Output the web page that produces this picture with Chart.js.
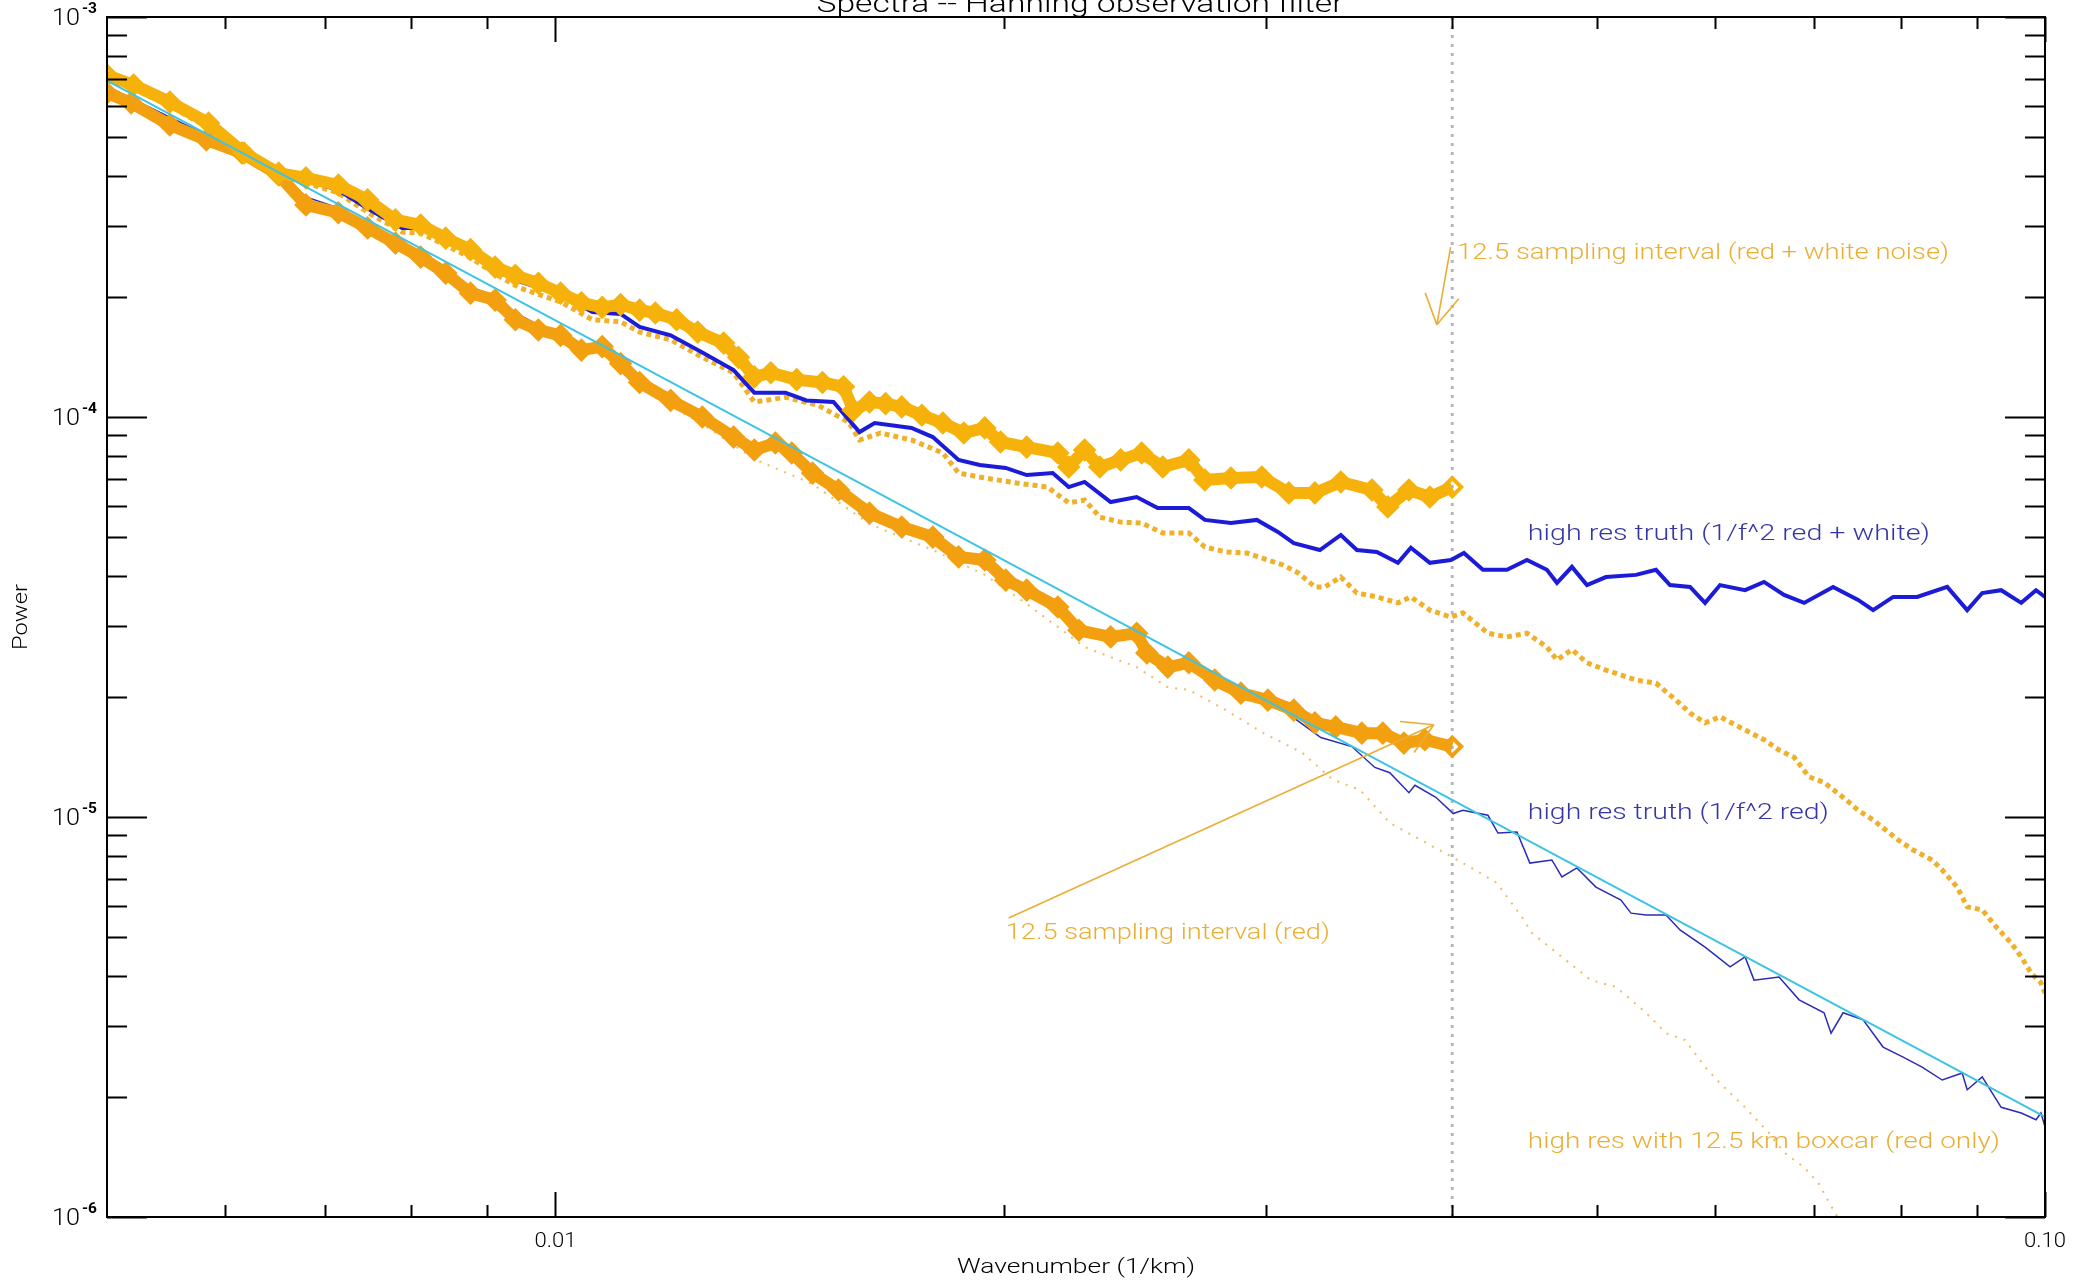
<!DOCTYPE html>
<html>
<head>
<meta charset="utf-8">
<title>Spectra -- Hanning observation filter</title>
<script src="https://cdn.jsdelivr.net/npm/chart.js@4.4.1/dist/chart.umd.min.js"></script>
<style>
  html, body { margin: 0; padding: 0; background: #fff; }
  #wrap { width: 2075px; height: 1282px; }
</style>
</head>
<body>
<div id="wrap"><canvas id="spectraChart"></canvas></div>
<script>
// power spectra, wavenumber in 1/km

// 1/f^2 reference line
const fitK = [0.005, 0.1];
const fitP = [6.93e-4, 1.78e-6];

// high res truth, red + white noise
const truthRedWhiteK = [0.00500, 0.00521, 0.00551, 0.00585, 0.00618, 0.00652, 0.00680, 0.00715, 0.00751, 0.00789,
  0.00812, 0.00844, 0.00877, 0.00911, 0.00947, 0.01008, 0.01059, 0.01106, 0.01139, 0.01195,
  0.01255, 0.01317, 0.01360, 0.01427, 0.01474, 0.01537, 0.01600, 0.01638, 0.01734, 0.01792,
  0.01865, 0.01927, 0.02006, 0.02072, 0.02157, 0.02211, 0.02266, 0.02359, 0.02456, 0.02537,
  0.02662, 0.02729, 0.02841, 0.02957, 0.03055, 0.03131, 0.03260, 0.03367, 0.03452, 0.03560,
  0.03678, 0.03752, 0.03864, 0.03992, 0.04073, 0.04194, 0.04353, 0.04490, 0.04630, 0.04703,
  0.04813, 0.04926, 0.05073, 0.05314, 0.05481, 0.05601, 0.05777, 0.05913, 0.06051, 0.06290,
  0.06477, 0.06681, 0.06891, 0.07207, 0.07491, 0.07667, 0.07908, 0.08207, 0.08597, 0.08867,
  0.09075, 0.09345, 0.09639, 0.09862, 0.1000];
const truthRedWhiteP = [7.04e-4, 6.68e-4, 6.06e-4, 5.37e-4, 4.57e-4, 4.10e-4, 3.91e-4, 3.69e-4, 3.29e-4, 2.97e-4,
  2.97e-4, 2.77e-4, 2.59e-4, 2.36e-4, 2.18e-4, 2.02e-4, 1.83e-4, 1.81e-4, 1.68e-4, 1.60e-4,
  1.45e-4, 1.31e-4, 1.15e-4, 1.15e-4, 1.10e-4, 1.09e-4, 9.17e-5, 9.66e-5, 9.39e-5, 8.91e-5,
  7.81e-5, 7.59e-5, 7.46e-5, 7.16e-5, 7.24e-5, 6.68e-5, 6.88e-5, 6.13e-5, 6.31e-5, 5.92e-5,
  5.92e-5, 5.53e-5, 5.43e-5, 5.53e-5, 5.16e-5, 4.84e-5, 4.65e-5, 5.07e-5, 4.65e-5, 4.60e-5,
  4.32e-5, 4.71e-5, 4.32e-5, 4.39e-5, 4.57e-5, 4.15e-5, 4.15e-5, 4.39e-5, 4.15e-5, 3.85e-5,
  4.22e-5, 3.80e-5, 3.98e-5, 4.03e-5, 4.15e-5, 3.80e-5, 3.76e-5, 3.43e-5, 3.80e-5, 3.69e-5,
  3.87e-5, 3.59e-5, 3.43e-5, 3.76e-5, 3.49e-5, 3.29e-5, 3.55e-5, 3.55e-5, 3.76e-5, 3.29e-5,
  3.63e-5, 3.69e-5, 3.43e-5, 3.69e-5, 3.55e-5];

// high res truth, red only
const truthRedK = [0.00500, 0.00519, 0.00551, 0.00583, 0.00616, 0.00652, 0.00680, 0.00715, 0.00748, 0.00781,
  0.00812, 0.00844, 0.00877, 0.00911, 0.00940, 0.00974, 0.01008, 0.01041, 0.01075, 0.01106,
  0.01139, 0.01195, 0.01255, 0.01317, 0.01360, 0.01405, 0.01441, 0.01488, 0.01549, 0.01625,
  0.01708, 0.01792, 0.01865, 0.01942, 0.02006, 0.02072, 0.02174, 0.02246, 0.02359, 0.02456,
  0.02495, 0.02577, 0.02662, 0.02771, 0.02885, 0.03008, 0.03131, 0.03265, 0.03425, 0.03549,
  0.03632, 0.03741, 0.03776, 0.03900, 0.04006, 0.04066, 0.04227, 0.04293, 0.04421, 0.04510,
  0.04666, 0.04739, 0.04850, 0.04995, 0.05192, 0.05273, 0.05397, 0.05567, 0.05688, 0.05913,
  0.06146, 0.06290, 0.06378, 0.06629, 0.06838, 0.07107, 0.07184, 0.07319, 0.07549, 0.07786,
  0.08031, 0.08270, 0.08531, 0.08798, 0.08867, 0.09075, 0.09345, 0.09639, 0.09862, 0.09938,
  0.1000];
const truthRedP = [6.72e-4, 6.27e-4, 5.62e-4, 5.07e-4, 4.62e-4, 4.10e-4, 3.55e-4, 3.33e-4, 3.04e-4, 2.77e-4,
  2.59e-4, 2.36e-4, 2.11e-4, 2.01e-4, 1.82e-4, 1.70e-4, 1.62e-4, 1.51e-4, 1.51e-4, 1.40e-4,
  1.25e-4, 1.13e-4, 1.02e-4, 9.12e-5, 8.46e-5, 8.76e-5, 8.27e-5, 7.37e-5, 6.72e-5, 5.92e-5,
  5.46e-5, 5.13e-5, 4.57e-5, 4.49e-5, 4.03e-5, 3.80e-5, 3.43e-5, 3.00e-5, 2.88e-5, 2.93e-5,
  2.62e-5, 2.43e-5, 2.50e-5, 2.24e-5, 2.08e-5, 2.00e-5, 1.77e-5, 1.58e-5, 1.50e-5, 1.33e-5,
  1.29e-5, 1.15e-5, 1.20e-5, 1.12e-5, 1.02e-5, 1.04e-5, 1.01e-5, 9.12e-6, 9.17e-6, 7.67e-6,
  7.81e-6, 7.08e-6, 7.46e-6, 6.68e-6, 6.20e-6, 5.75e-6, 5.69e-6, 5.69e-6, 5.22e-6, 4.73e-6,
  4.22e-6, 4.47e-6, 3.91e-6, 3.98e-6, 3.49e-6, 3.24e-6, 2.88e-6, 3.24e-6, 3.11e-6, 2.66e-6,
  2.51e-6, 2.37e-6, 2.20e-6, 2.29e-6, 2.08e-6, 2.24e-6, 1.88e-6, 1.82e-6, 1.75e-6, 1.82e-6,
  1.68e-6];

// 12.5 km sampling interval, red + white noise
const sampledRedWhiteK = [0.00500, 0.00521, 0.00551, 0.00585, 0.00618, 0.00652, 0.00680, 0.00715, 0.00748, 0.00781,
  0.00812, 0.00844, 0.00877, 0.00911, 0.00940, 0.00974, 0.01008, 0.01041, 0.01075, 0.01106,
  0.01139, 0.01167, 0.01206, 0.01246, 0.01297, 0.01327, 0.01360, 0.01395, 0.01452, 0.01511,
  0.01561, 0.01585, 0.01625, 0.01666, 0.01708, 0.01762, 0.01820, 0.01880, 0.01942, 0.01990,
  0.02072, 0.02174, 0.02211, 0.02266, 0.02320, 0.02396, 0.02475, 0.02557, 0.02662, 0.02729,
  0.02841, 0.02980, 0.03107, 0.03235, 0.03367, 0.03533, 0.03621, 0.03741, 0.03864, 0.04000];
const sampledRedWhiteP = [7.16e-4, 6.76e-4, 6.13e-4, 5.43e-4, 4.57e-4, 4.07e-4, 3.96e-4, 3.80e-4, 3.49e-4, 3.11e-4,
  3.02e-4, 2.80e-4, 2.62e-4, 2.37e-4, 2.26e-4, 2.16e-4, 2.04e-4, 1.93e-4, 1.88e-4, 1.91e-4,
  1.85e-4, 1.82e-4, 1.75e-4, 1.63e-4, 1.53e-4, 1.41e-4, 1.26e-4, 1.29e-4, 1.24e-4, 1.22e-4,
  1.19e-4, 1.04e-4, 1.09e-4, 1.08e-4, 1.06e-4, 1.01e-4, 9.66e-5, 9.12e-5, 9.39e-5, 8.66e-5,
  8.41e-5, 8.13e-5, 7.50e-5, 8.27e-5, 7.50e-5, 7.81e-5, 8.13e-5, 7.50e-5, 7.81e-5, 6.96e-5,
  7.04e-5, 7.08e-5, 6.46e-5, 6.46e-5, 6.88e-5, 6.57e-5, 5.96e-5, 6.57e-5, 6.31e-5, 6.68e-5];

// 12.5 km sampling interval, red only
const sampledRedK = [0.00500, 0.00519, 0.00551, 0.00583, 0.00616, 0.00652, 0.00680, 0.00715, 0.00748, 0.00781,
  0.00812, 0.00844, 0.00877, 0.00911, 0.00940, 0.00974, 0.01008, 0.01041, 0.01075, 0.01106,
  0.01139, 0.01195, 0.01255, 0.01317, 0.01360, 0.01405, 0.01441, 0.01488, 0.01549, 0.01625,
  0.01708, 0.01792, 0.01865, 0.01942, 0.02006, 0.02072, 0.02174, 0.02246, 0.02359, 0.02456,
  0.02495, 0.02577, 0.02662, 0.02771, 0.02885, 0.03008, 0.03131, 0.03235, 0.03341, 0.03478,
  0.03593, 0.03712, 0.03834, 0.04000];
const sampledRedP = [6.46e-4, 6.10e-4, 5.37e-4, 4.93e-4, 4.57e-4, 4.03e-4, 3.39e-4, 3.24e-4, 2.97e-4, 2.72e-4,
  2.51e-4, 2.29e-4, 2.04e-4, 1.96e-4, 1.75e-4, 1.65e-4, 1.60e-4, 1.47e-4, 1.50e-4, 1.36e-4,
  1.22e-4, 1.10e-4, 1.00e-4, 8.91e-5, 8.27e-5, 8.61e-5, 8.13e-5, 7.24e-5, 6.57e-5, 5.75e-5,
  5.31e-5, 5.01e-5, 4.47e-5, 4.39e-5, 3.91e-5, 3.69e-5, 3.35e-5, 2.93e-5, 2.82e-5, 2.88e-5,
  2.57e-5, 2.37e-5, 2.43e-5, 2.20e-5, 2.04e-5, 1.96e-5, 1.85e-5, 1.72e-5, 1.68e-5, 1.62e-5,
  1.62e-5, 1.53e-5, 1.56e-5, 1.50e-5];

// high res with 12.5 km boxcar, red + white
const boxcarRedWhiteK = [0.00500, 0.00521, 0.00551, 0.00585, 0.00618, 0.00652, 0.00680, 0.00715, 0.00751, 0.00789,
  0.00812, 0.00844, 0.00877, 0.00911, 0.00947, 0.01008, 0.01059, 0.01106, 0.01139, 0.01195,
  0.01255, 0.01317, 0.01360, 0.01427, 0.01500, 0.01573, 0.01600, 0.01653, 0.01734, 0.01820,
  0.01865, 0.01942, 0.02040, 0.02140, 0.02211, 0.02266, 0.02320, 0.02396, 0.02475, 0.02557,
  0.02662, 0.02729, 0.02819, 0.02912, 0.03008, 0.03078, 0.03155, 0.03235, 0.03285, 0.03367,
  0.03452, 0.03560, 0.03678, 0.03752, 0.03864, 0.03992, 0.04066, 0.04227, 0.04353, 0.04490,
  0.04630, 0.04703, 0.04813, 0.04926, 0.05073, 0.05314, 0.05481, 0.05653, 0.05777, 0.05913,
  0.06051, 0.06290, 0.06477, 0.06629, 0.06785, 0.06944, 0.07107, 0.07319, 0.07491, 0.07667,
  0.07969, 0.08156, 0.08399, 0.08531, 0.08731, 0.08867, 0.09075, 0.09273, 0.09491, 0.09639,
  0.09789, 0.09938, 0.1000];
const boxcarRedWhiteP = [6.96e-4, 6.61e-4, 5.99e-4, 5.28e-4, 4.49e-4, 4.03e-4, 3.85e-4, 3.63e-4, 3.22e-4, 2.90e-4,
  2.88e-4, 2.69e-4, 2.50e-4, 2.28e-4, 2.10e-4, 1.94e-4, 1.75e-4, 1.73e-4, 1.63e-4, 1.56e-4,
  1.41e-4, 1.29e-4, 1.09e-4, 1.12e-4, 1.07e-4, 9.72e-5, 8.76e-5, 9.12e-5, 8.76e-5, 8.13e-5,
  7.24e-5, 7.04e-5, 6.84e-5, 6.68e-5, 6.10e-5, 6.20e-5, 5.62e-5, 5.46e-5, 5.43e-5, 5.13e-5,
  5.13e-5, 4.73e-5, 4.60e-5, 4.57e-5, 4.39e-5, 4.27e-5, 4.07e-5, 3.76e-5, 3.76e-5, 3.98e-5,
  3.63e-5, 3.55e-5, 3.43e-5, 3.55e-5, 3.29e-5, 3.16e-5, 3.24e-5, 2.88e-5, 2.82e-5, 2.88e-5,
  2.66e-5, 2.47e-5, 2.62e-5, 2.43e-5, 2.33e-5, 2.20e-5, 2.16e-5, 1.96e-5, 1.82e-5, 1.72e-5,
  1.78e-5, 1.65e-5, 1.56e-5, 1.47e-5, 1.41e-5, 1.26e-5, 1.22e-5, 1.12e-5, 1.04e-5, 9.83e-6,
  8.76e-6, 8.27e-6, 7.81e-6, 7.37e-6, 6.68e-6, 5.96e-6, 5.86e-6, 5.31e-6, 4.84e-6, 4.47e-6,
  4.07e-6, 3.85e-6, 3.63e-6];

// high res with 12.5 km boxcar, red only
const boxcarRedK = [0.00500, 0.00551, 0.00616, 0.00680, 0.00748, 0.00812, 0.00877, 0.00940, 0.01008, 0.01075,
  0.01139, 0.01255, 0.01360, 0.01488, 0.01625, 0.01792, 0.01942, 0.02072, 0.02266, 0.02456,
  0.02577, 0.02662, 0.02819, 0.02989, 0.03170, 0.03326, 0.03468, 0.03632, 0.03811, 0.04000,
  0.04143, 0.04286, 0.04455, 0.04524, 0.04703, 0.04957, 0.05152, 0.05397, 0.05567, 0.05733,
  0.05913, 0.06051, 0.06290, 0.06528, 0.06681, 0.06891, 0.07041, 0.07151, 0.07399];
const boxcarRedP = [6.65e-4, 5.53e-4, 4.52e-4, 3.47e-4, 2.95e-4, 2.50e-4, 2.03e-4, 1.74e-4, 1.54e-4, 1.44e-4,
  1.18e-4, 9.61e-5, 7.85e-5, 6.80e-5, 5.40e-5, 4.65e-5, 4.03e-5, 3.41e-5, 2.66e-5, 2.37e-5,
  2.11e-5, 2.08e-5, 1.85e-5, 1.62e-5, 1.45e-5, 1.24e-5, 1.17e-5, 9.66e-6, 8.76e-6, 7.94e-6,
  7.37e-6, 6.84e-6, 5.62e-6, 5.13e-6, 4.57e-6, 3.91e-6, 3.76e-6, 3.24e-6, 2.88e-6, 2.77e-6,
  2.37e-6, 2.16e-6, 1.88e-6, 1.62e-6, 1.45e-6, 1.33e-6, 1.22e-6, 1.10e-6, 8.76e-7];

// Nyquist wavenumber of the 12.5 km sampling
const nyquistK = 0.04;

// axis ticks
const xMajorTicks = [0.01, 0.1];
const xTickLabels = ['0.01', '0.10'];
const xMinorTicks = [0.006, 0.007, 0.008, 0.009, 0.02, 0.03, 0.04, 0.05, 0.06, 0.07, 0.08, 0.09];
const yMajorTicks = [1e-6, 1e-5, 1e-4, 1e-3];
const yMinorSteps = [2, 3, 4, 5, 6, 7, 8, 9];

const FONT = 'Roboto, "Liberation Sans", sans-serif';
const ORANGE_TEXT = '#eaae34';
const BLUE_TEXT = '#3535a8';

// annotations (xyouts style, data coordinates, baseline-left)
const notes = [
  { text: '12.5 sampling interval (red + white noise)', k: 0.0403, p: 2.48e-4, w: 492, color: ORANGE_TEXT },
  { text: 'high res truth (1/f^2 red + white)', k: 0.04496, p: 4.93e-5, w: 402, color: BLUE_TEXT },
  { text: 'high res truth (1/f^2 red)', k: 0.04496, p: 9.89e-6, w: 301, color: BLUE_TEXT },
  { text: '12.5 sampling interval (red)', k: 0.02006, p: 4.96e-6, w: 324, color: ORANGE_TEXT },
  { text: 'high res with 12.5 km boxcar (red only)', k: 0.04496, p: 1.49e-6, w: 472, color: ORANGE_TEXT }
];
const arrows = [
  { from: [0.0399, 2.66e-4], to: [0.03906, 1.70e-4] },
  { from: [0.02015, 5.59e-6], to: [0.03888, 1.70e-5] }
];

function points(k, p) {
  return k.map((x, i) => ({ x: x, y: p[i] }));
}

// the vector font is wider than any installed face, so stretch to width
function fitText(ctx, text, x, y, width, align) {
  const w = ctx.measureText(text).width;
  ctx.save();
  ctx.translate(x, y);
  ctx.scale(width / w, 1);
  ctx.textAlign = align || 'left';
  ctx.fillText(text, 0, 0);
  ctx.restore();
}

function drawArrow(ctx, x0, y0, x1, y1, head) {
  const a = Math.atan2(y0 - y1, x0 - x1);
  ctx.beginPath();
  ctx.moveTo(x0, y0);
  ctx.lineTo(x1, y1);
  [-1, 1].forEach(s => {
    ctx.moveTo(x1, y1);
    ctx.lineTo(x1 + head * Math.cos(a + s * Math.PI / 6), y1 + head * Math.sin(a + s * Math.PI / 6));
  });
  ctx.stroke();
}

// IDL-like box: inward ticks on all four sides, labels, annotations
const idlFrame = {
  id: 'idlFrame',
  afterDraw(chart) {
    const ctx = chart.ctx;
    const xs = chart.scales.x, ys = chart.scales.y;
    const { left, right, top, bottom } = chart.chartArea;
    ctx.save();

    // annotations
    ctx.textBaseline = 'alphabetic';
    ctx.font = '300 22px ' + FONT;
    notes.forEach(n => {
      ctx.fillStyle = n.color;
      fitText(ctx, n.text, xs.getPixelForValue(n.k), ys.getPixelForValue(n.p), n.w);
    });
    ctx.strokeStyle = ORANGE_TEXT;
    ctx.lineWidth = 1.6;
    arrows.forEach(a => {
      drawArrow(ctx,
        xs.getPixelForValue(a.from[0]), ys.getPixelForValue(a.from[1]),
        xs.getPixelForValue(a.to[0]), ys.getPixelForValue(a.to[1]), 34);
    });

    // frame and ticks
    ctx.strokeStyle = '#000';
    ctx.lineWidth = 2;
    ctx.strokeRect(left, top, right - left, bottom - top);
    ctx.beginPath();
    const xTick = (v, len) => {
      const px = Math.round(xs.getPixelForValue(v)) + 0.5;
      ctx.moveTo(px, bottom); ctx.lineTo(px, bottom - len);
      ctx.moveTo(px, top); ctx.lineTo(px, top + len);
    };
    const yTick = (v, len) => {
      const py = Math.round(ys.getPixelForValue(v)) + 0.5;
      ctx.moveTo(left, py); ctx.lineTo(left + len, py);
      ctx.moveTo(right, py); ctx.lineTo(right - len, py);
    };
    xMajorTicks.forEach(v => xTick(v, 25));
    xMinorTicks.forEach(v => xTick(v, 12));
    yMajorTicks.forEach(v => {
      yTick(v, 40);
      if (v < 1e-3) yMinorSteps.forEach(m => yTick(v * m, 20));
    });
    ctx.stroke();

    // tick labels
    ctx.fillStyle = '#000';
    ctx.font = '300 21px ' + FONT;
    ctx.textBaseline = 'middle';
    xMajorTicks.forEach((v, i) => {
      fitText(ctx, xTickLabels[i], xs.getPixelForValue(v), bottom + 25, 42, 'center');
    });
    yMajorTicks.forEach(v => {
      const py = ys.getPixelForValue(v);
      ctx.font = '300 24px ' + FONT;
      fitText(ctx, '10', left - 27, py + 2, 28, 'right');
      ctx.font = 'bold 14px ' + FONT;
      fitText(ctx, '-' + Math.round(-Math.log10(v)), left - 25, py - 8, 15, 'left');
    });

    // axis titles
    ctx.font = '300 20px ' + FONT;
    fitText(ctx, 'Wavenumber (1/km)', (left + right) / 2, bottom + 51, 238, 'center');
    ctx.save();
    ctx.translate(22, (top + bottom) / 2);
    ctx.rotate(-Math.PI / 2);
    fitText(ctx, 'Power', 0, 0, 66, 'center');
    ctx.restore();

    // title runs off the top edge
    ctx.font = '300 26px ' + FONT;
    ctx.textBaseline = 'alphabetic';
    fitText(ctx, 'Spectra -- Hanning observation filter', (left + right) / 2 + 4, 12, 527, 'center');

    ctx.restore();
  }
};

const ctxSpectra = document.getElementById('spectraChart').getContext('2d');
const spectraChart = new Chart(ctxSpectra, {
  type: 'scatter',
  data: {
    datasets: [
      {
        label: '1/f^2',
        data: points(fitK, fitP),
        showLine: true,
        borderColor: '#3cc4e4',
        borderWidth: 2,
        pointRadius: 0
      },
      {
        label: '12.5 sampling interval (red + white noise)',
        data: points(sampledRedWhiteK, sampledRedWhiteP),
        showLine: true,
        borderColor: '#f6b20a',
        borderWidth: 12,
        borderJoinStyle: 'round',
        pointStyle: 'rectRot',
        pointRadius: 9,
        pointBorderWidth: 4,
        pointBorderColor: '#f6b20a',
        pointBackgroundColor: 'rgba(255,255,255,0)'
      },
      {
        label: '12.5 sampling interval (red)',
        data: points(sampledRedK, sampledRedP),
        showLine: true,
        borderColor: '#f3a010',
        borderWidth: 12,
        borderJoinStyle: 'round',
        pointStyle: 'rectRot',
        pointRadius: 9,
        pointBorderWidth: 4,
        pointBorderColor: '#f3a010',
        pointBackgroundColor: 'rgba(255,255,255,0)'
      },
      {
        label: 'high res truth (1/f^2 red)',
        data: points(truthRedK, truthRedP),
        showLine: true,
        borderColor: '#2b2bb6',
        borderWidth: 1.5,
        pointRadius: 0
      },
      {
        label: 'high res truth (1/f^2 red + white)',
        data: points(truthRedWhiteK, truthRedWhiteP),
        showLine: true,
        borderColor: '#1c1cd8',
        borderWidth: 4,
        pointRadius: 0
      },
      {
        label: 'high res with 12.5 km boxcar (red + white)',
        data: points(boxcarRedWhiteK, boxcarRedWhiteP),
        showLine: true,
        borderColor: '#efb12c',
        borderWidth: 5,
        borderDash: [5, 4],
        pointRadius: 0
      },
      {
        label: 'high res with 12.5 km boxcar (red only)',
        data: points(boxcarRedK, boxcarRedP),
        showLine: true,
        borderColor: 'rgba(236,176,70,0.85)',
        borderWidth: 2,
        borderDash: [2, 7],
        pointRadius: 0
      },
      {
        label: 'Nyquist',
        data: [{ x: nyquistK, y: 1e-6 }, { x: nyquistK, y: 1e-3 }],
        showLine: true,
        borderColor: '#b6b6c2',
        borderWidth: 3,
        borderDash: [3, 6],
        pointRadius: 0
      }
    ]
  },
  options: {
    responsive: true,
    maintainAspectRatio: false,
    animation: false,
    layout: { padding: { left: 107, right: 30, top: 17, bottom: 65 } },
    plugins: {
      legend: { display: false },
      tooltip: { enabled: false }
    },
    scales: {
      x: { type: 'logarithmic', min: 0.005, max: 0.1, display: false },
      y: { type: 'logarithmic', min: 1e-6, max: 1e-3, display: false }
    }
  },
  plugins: [idlFrame]
});
</script>
</body>
</html>
